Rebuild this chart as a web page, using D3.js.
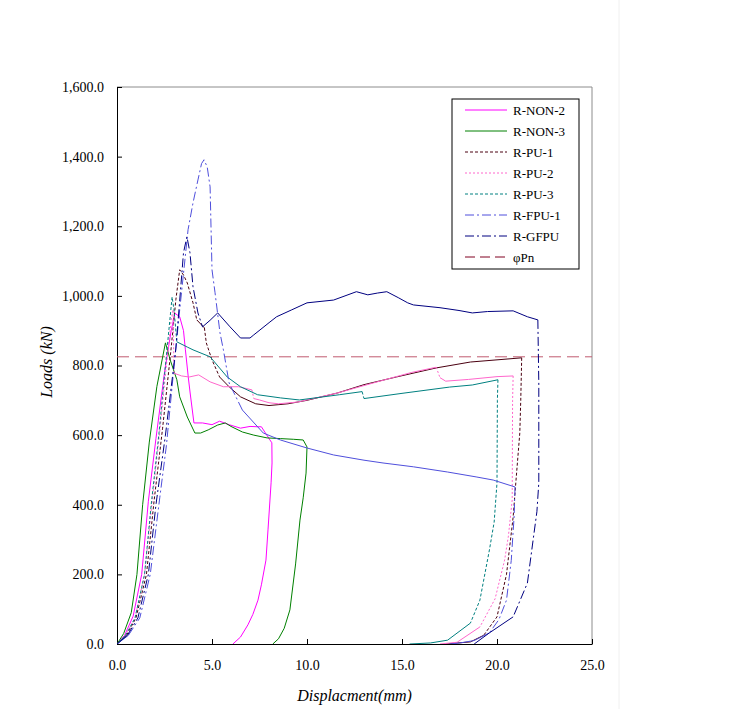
<!DOCTYPE html>
<html>
<head>
<meta charset="utf-8">
<script src="https://cdn.jsdelivr.net/npm/d3@7"></script>
<style>
  body { margin: 0; background: #fff; }
  svg { display: block; }
  text { font-family: "Liberation Serif", "Times New Roman", serif; fill: #000; }
</style>
</head>
<body>
<svg id="chart" width="736" height="709"></svg>
<script>
// displacement (mm) / load (kN)
const nonTwoDisp = [0,0.4,0.85,1.3,1.65,2.05,2.5,2.85,3.05,3.3,3.5,3.6,3.75,3.85,4.05,4.5,5.0,5.4,5.9,6.5,7.0,7.4,7.6,8.05,8.15,8.16,8.11,7.95,7.84,7.6,7.42,7.15,6.89,6.5,6.1];
const nonTwoLoad = [0,25,80,200,410,590,780,900,950,940,900,845,767,721,635,635,630,640,630,620,625,624,624,586,578,520,463,330,241,170,126,85,55,20,0];

const nonThreeDisp = [0,0.35,0.75,1.05,1.35,1.7,2.1,2.55,2.8,3.15,3.3,3.7,4.1,4.4,4.8,5.3,5.7,6.0,6.6,7.2,7.9,8.6,9.3,9.8,10.0,9.95,9.8,9.63,9.4,9.1,8.8,8.5,8.2];
const nonThreeLoad = [0,30,90,200,400,580,740,865,816,759,710,652,606,606,615,629,635,625,609,600,592,590,588,586,566,491,420,356,230,98,45,15,0];

const puOneDisp = [0,0.5,1.0,1.55,1.95,2.4,2.85,3.1,3.3,3.5,3.7,4.0,4.2,4.6,4.7,5.0,5.4,5.9,6.5,7.3,8.0,9.0,10.0,11.6,13.0,14.7,16.8,18.6,21.3,21.25,21.2,21.0,20.85,20.5,20.0,19.3,18.6,17.3];
const puOneLoad = [0,25,75,200,410,620,850,990,1075,1060,1037,980,931,908,865,816,767,739,710,690,685,690,700,721,745,767,793,810,822,700,606,470,365,200,78,25,6,0];

const puTwoDisp = [0,0.45,0.95,1.45,1.85,2.25,2.6,2.85,2.95,3.0,3.4,3.8,4.3,4.9,5.6,6.4,7.1,7.2,7.5,8.0,8.5,9.5,11.6,13.5,15.5,16.8,17.0,17.3,18.5,20.0,20.85,20.82,20.8,20.6,20.4,19.9,19.1,17.9,17.0];
const puTwoLoad = [0,25,75,200,410,610,800,930,960,778,770,767,773,753,739,739,730,705,701,693,690,695,721,750,780,795,765,755,760,768,770,700,414,310,241,130,49,5,0];

const puThreeDisp = [0,0.45,0.95,1.45,1.8,2.2,2.55,2.9,3.0,3.15,3.7,4.0,4.9,5.8,6.5,7.4,8.6,9.6,11.7,12.9,13.0,15.0,17.5,18.7,20.05,20.02,20.0,19.85,19.6,19.1,18.6,17.4,16.5,15.4];
const puThreeLoad = [0,25,75,200,400,600,800,997,960,868,853,845,825,767,739,716,707,701,716,725,705,720,738,744,759,700,463,350,270,126,60,11,3,0];

const fpuDisp = [0,0.6,1.2,1.75,2.25,2.6,2.9,3.3,3.74,4.0,4.26,4.45,4.58,4.75,4.9,5.0,5.16,5.42,5.6,5.9,6.6,7.7,8.6,10.0,11.4,13.0,14.0,15.6,17.4,18.9,19.8,20.95,20.9,20.75,20.5,20.1,19.6,18.8,18.05,17.5];
const fpuLoad = [0,25,75,200,420,570,740,960,1190,1267,1333,1380,1391,1370,1313,1075,1009,894,845,750,672,606,586,563,543,528,520,509,494,480,471,451,365,240,126,70,32,10,3,0];

const gfpuDisp = [0,0.55,1.1,1.65,2.05,2.55,3.1,3.5,3.68,3.84,4.0,4.26,4.5,4.9,5.3,5.95,6.5,7.0,7.2,8.05,8.4,9.2,10.0,11.4,12.0,12.6,13.2,13.7,14.2,14.8,15.3,15.6,17.0,18.0,18.7,19.5,20.85,21.6,22.15,22.2,22.2,22.1,21.95,21.6,20.85,19.6,18.8];
const gfpuLoad = [0,25,75,200,400,600,850,1124,1170,1124,1026,951,911,930,951,911,879,879,888,925,940,960,980,988,1000,1012,1003,1008,1012,995,980,974,966,958,951,955,957,940,931,750,463,380,319,175,78,32,0];

const phiPn = 825;

const seriesNames = ["R-NON-2", "R-NON-3", "R-PU-1", "R-PU-2", "R-PU-3", "R-FPU-1", "R-GFPU", "\u03c6Pn"];
const xTicks = [0, 5, 10, 15, 20, 25];
const yTicks = [0, 200, 400, 600, 800, 1000, 1200, 1400, 1600];

const series = [
  {name: seriesNames[0], disp: nonTwoDisp, load: nonTwoLoad, color: "#ff00ff", dash: null},
  {name: seriesNames[1], disp: nonThreeDisp, load: nonThreeLoad, color: "#008000", dash: null},
  {name: seriesNames[2], disp: puOneDisp, load: puOneLoad, color: "#4a0010", dash: "3,2"},
  {name: seriesNames[3], disp: puTwoDisp, load: puTwoLoad, color: "#ff66cc", dash: "2,2"},
  {name: seriesNames[4], disp: puThreeDisp, load: puThreeLoad, color: "#008080", dash: "3,2"},
  {name: seriesNames[5], disp: fpuDisp, load: fpuLoad, color: "#4f4fdc", dash: "9,3,2,3"},
  {name: seriesNames[6], disp: gfpuDisp, load: gfpuLoad, color: "#000080", dash: "9,3,2,3"}
];

const svg = d3.select("#chart");
const m = {left: 117, right: 592, top: 87, bottom: 644};

const x = d3.scaleLinear().domain([0, 25]).range([m.left, m.right]);
const y = d3.scaleLinear().domain([0, 1600]).range([m.bottom, m.top]);

// faint outer chart frame
svg.append("line").attr("x1", 619).attr("x2", 619).attr("y1", 0).attr("y2", 709)
   .attr("stroke", "#f0f0f0");

// plot area border (top / right grey)
svg.append("path")
   .attr("d", `M${m.left},${m.top}H${m.right}V${m.bottom}`)
   .attr("fill", "none").attr("stroke", "#8c8c8c");

// axes, ticks pointing inward
const yAxis = d3.axisLeft(y).tickValues(yTicks).tickSizeInner(-5).tickSizeOuter(0)
  .tickPadding(13).tickFormat(d3.format(",.1f"));
const xAxis = d3.axisBottom(x).tickValues(xTicks).tickSizeInner(-5).tickSizeOuter(0)
  .tickPadding(16).tickFormat(d3.format(".1f"));

const gy = svg.append("g").attr("transform", `translate(${m.left},0)`).call(yAxis);
const gx = svg.append("g").attr("transform", `translate(0,${m.bottom})`).call(xAxis);
[gy, gx].forEach(g => {
  g.select(".domain").attr("stroke", "#000");
  g.selectAll(".tick line").attr("stroke", "#000");
  g.selectAll("text").attr("font-size", 14).attr("font-family", '"Liberation Serif", serif').attr("fill", "#000");
});

// φPn reference line
svg.append("line")
   .attr("x1", x(0)).attr("x2", x(25))
   .attr("y1", y(phiPn)).attr("y2", y(phiPn))
   .attr("stroke", "#c05a70").attr("stroke-dasharray", "12,6");

const line = d3.line()
  .x(d => x(d[0]))
  .y(d => y(d[1]));

// the dense, flat stretches of the test records print as solid lines;
// only the steep, sparse parts show the dash pattern
function splitRuns(s) {
  const pts = s.disp.map((d, i) => [d, s.load[i]]);
  const runs = [];
  for (let i = 1; i < pts.length; i++) {
    const dx = Math.abs(x(pts[i][0]) - x(pts[i - 1][0]));
    const dy = Math.abs(y(pts[i][1]) - y(pts[i - 1][1]));
    const steep = dy > 1.3 * dx;
    const last = runs[runs.length - 1];
    if (last && last.steep === steep) last.pts.push(pts[i]);
    else runs.push({steep: steep, pts: [pts[i - 1], pts[i]]});
  }
  return runs.map(r => ({pts: r.pts, color: s.color, dash: (r.steep || !s.dash) ? s.dash : null}));
}

svg.append("clipPath").attr("id", "plotclip")
  .append("rect").attr("x", m.left).attr("y", m.top - 2)
  .attr("width", m.right - m.left + 2).attr("height", m.bottom - m.top + 2);

const plot = svg.append("g").attr("clip-path", "url(#plotclip)");
series.forEach(s => {
  plot.append("g")
    .selectAll("path")
    .data(splitRuns(s))
    .enter()
    .append("path")
    .attr("d", r => line(r.pts))
    .attr("fill", "none")
    .attr("stroke", r => r.color)
    .attr("stroke-width", 1)
    .attr("stroke-dasharray", r => r.dash);
});

// axis titles
svg.append("text")
   .attr("x", (m.left + m.right) / 2).attr("y", 701)
   .attr("text-anchor", "middle").attr("font-size", 16).attr("font-style", "italic")
   .text("Displacment(mm)");

svg.append("text")
   .attr("transform", "translate(52,362) rotate(-90)")
   .attr("text-anchor", "middle").attr("font-size", 16).attr("font-style", "italic")
   .text("Loads (kN)");

// legend
const legend = svg.append("g");
legend.append("rect")
  .attr("x", 452).attr("y", 99).attr("width", 127).attr("height", 170)
  .attr("fill", "#fff").attr("stroke", "#000");

const legendItems = series.concat([{name: seriesNames[7], color: "#800020", dash: "10,5"}]);
const item = legend.selectAll("g.item")
  .data(legendItems)
  .enter()
  .append("g")
  .attr("class", "item")
  .attr("transform", (d, i) => `translate(0,${110 + i * 21})`);

item.append("line")
  .attr("x1", 465).attr("x2", 507)
  .attr("stroke", d => d.color)
  .attr("stroke-dasharray", d => d.dash);

item.append("text")
  .attr("x", 513).attr("dy", "0.35em")
  .attr("font-size", 13)
  .text(d => d.name);
</script>
</body>
</html>
